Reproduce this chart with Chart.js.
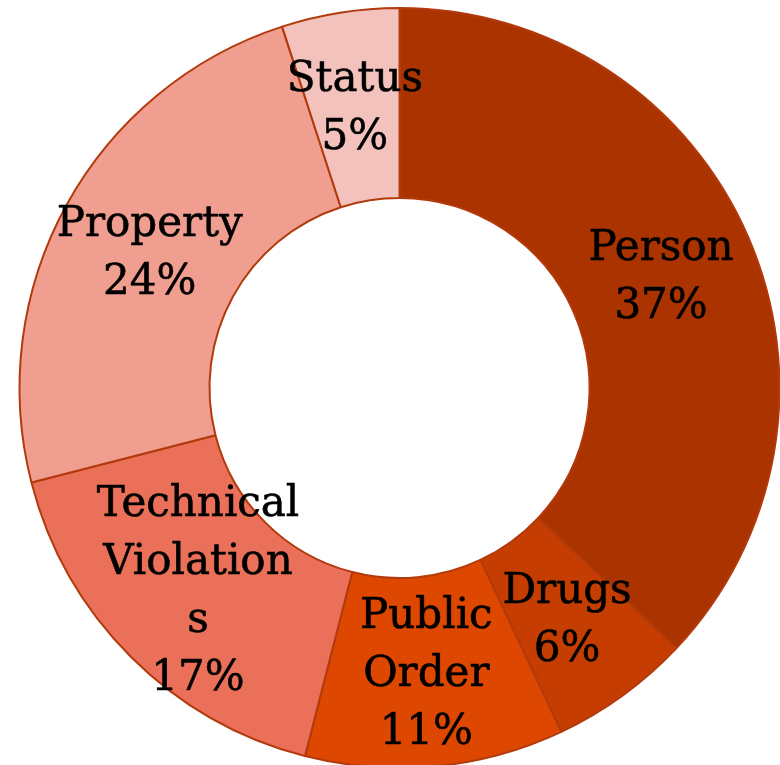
<!DOCTYPE html>
<html>
<head>
<meta charset="utf-8">
<script src="https://cdn.jsdelivr.net/npm/chart.js@4.4.1/dist/chart.umd.min.js"></script>
<style>
  html, body { margin: 0; padding: 0; background: #fff; overflow: hidden; width: 780px; height: 765px; }
  #myChart { display: block; }
</style>
</head>
<body>
<canvas id="myChart" width="799" height="776"></canvas>
<script>
// Offense categories and their share (%)
const categories = ["Person", "Drugs", "Public Order", "Technical Violations", "Property", "Status"];
const shares = [37, 6, 11, 17, 24, 5];
// label lines as wrapped in the original
const labelLines = [
  ["Person", "37%"],
  ["Drugs", "6%"],
  ["Public", "Order", "11%"],
  ["Technical", "Violation", "s", "17%"],
  ["Property", "24%"],
  ["Status", "5%"]
];
const sliceColors = ["#AB3300", "#C53D00", "#DE4700", "#EB7059", "#EF9E90", "#F4C2BD"];

// Draw the labels at the middle of each arc
const sliceLabels = {
  id: 'sliceLabels',
  afterDatasetsDraw(chart) {
    const c = chart.ctx;
    const meta = chart.getDatasetMeta(0);
    c.save();
    c.fillStyle = '#000';
    c.strokeStyle = '#000';
    c.lineWidth = 0.6;
    c.font = '42px "DejaVu Serif"';
    c.textAlign = 'center';
    c.textBaseline = 'middle';
    const lineH = 58;
    meta.data.forEach((arc, i) => {
      const pos = arc.tooltipPosition();
      const lines = labelLines[i];
      const startY = pos.y + 3 - (lines.length - 1) * lineH / 2;
      lines.forEach((txt, j) => {
        c.fillText(txt, pos.x, startY + j * lineH);
        c.strokeText(txt, pos.x, startY + j * lineH);
      });
    });
    c.restore();
  }
};

const ctx = document.getElementById('myChart');
const myChart = new Chart(ctx, {
  type: 'doughnut',
  data: {
    labels: categories,
    datasets: [{
      data: shares,
      backgroundColor: sliceColors,
      borderColor: '#B23A0C',
      borderWidth: 2
    }]
  },
  options: {
    responsive: false,
    animation: false,
    cutout: '50%',
    layout: { padding: 7 },
    plugins: {
      legend: { display: false },
      tooltip: { enabled: false }
    }
  },
  plugins: [sliceLabels]
});
</script>
</body>
</html>
